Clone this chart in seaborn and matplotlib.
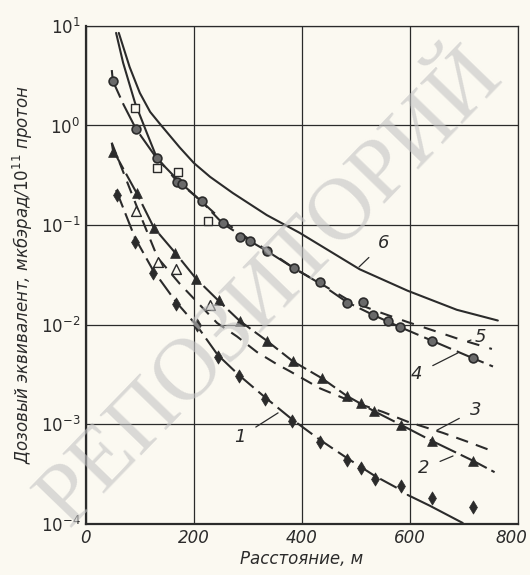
import numpy as np
import pandas as pd
import matplotlib
matplotlib.use("Agg")
import matplotlib.pyplot as plt
import matplotlib.transforms as mtransforms
import seaborn as sns

# данные (расстояние, м / доза на 1e11 протонов)
c6_x = [61, 81, 100, 119, 137, 174, 200, 230, 272, 335, 396, 457, 507, 596, 687, 763]
c6_y = [8.5, 3.87, 2.12, 1.37, 1.04, 0.60, 0.42, 0.305, 0.21, 0.126, 0.0835, 0.0526, 0.036, 0.0219, 0.0141, 0.011]

c5_x = [56, 69, 91, 113, 131, 165, 211, 254, 304, 341, 385, 433, 489, 541, 594, 650, 693, 752]
c5_y = [8.5, 4.26, 1.69, 0.84, 0.48, 0.291, 0.179, 0.110, 0.071, 0.054, 0.037, 0.0262, 0.0173, 0.0135, 0.0107, 0.0085, 0.0071, 0.0057]

c4_x = [48, 50, 70, 93, 131, 174, 215, 254, 304, 335, 385, 433, 483, 531, 581, 641, 717, 754]
c4_y = [3.6, 2.8, 1.61, 0.92, 0.47, 0.27, 0.171, 0.103, 0.069, 0.055, 0.037, 0.026, 0.0169, 0.0126, 0.0095, 0.0069, 0.0046, 0.0038]

c3_x = [48, 93, 133, 174, 211, 243, 280, 317, 354, 378, 433, 489, 550, 596, 661, 706, 752]
c3_y = [0.67, 0.160, 0.047, 0.0257, 0.0158, 0.0104, 0.0076, 0.0053, 0.0040, 0.0034, 0.0023, 0.00172, 0.00133, 0.00106, 0.00082, 0.00067, 0.00054]

c2_x = [48, 50, 94, 126, 165, 204, 248, 285, 335, 383, 437, 483, 533, 583, 641, 717, 757]
c2_y = [0.67, 0.57, 0.21, 0.094, 0.053, 0.029, 0.0169, 0.0109, 0.0069, 0.0043, 0.0029, 0.00193, 0.00136, 0.00099, 0.00068, 0.00043, 0.00033]

c1_x = [56, 91, 124, 167, 206, 244, 283, 331, 381, 433, 483, 535, 583]
c1_y = [0.225, 0.0743, 0.0355, 0.0169, 0.0097, 0.00498, 0.00313, 0.00188, 0.00113, 0.00070, 0.00046, 0.000303, 0.000219]
c1s_x = [596, 637, 698]
c1s_y = [0.000195, 0.000152, 0.000102]

circ_x = [50, 93, 131, 169, 178, 215, 254, 285, 304, 335, 385, 433, 483, 513, 531, 559, 581, 641, 717]
circ_y = [2.8, 0.92, 0.47, 0.27, 0.26, 0.175, 0.105, 0.076, 0.069, 0.055, 0.037, 0.027, 0.0166, 0.017, 0.0126, 0.011, 0.0095, 0.0069, 0.0046]

sq_x = [91, 131, 170, 226]
sq_y = [1.5, 0.375, 0.342, 0.110]

tri_x = [50, 94, 126, 165, 204, 246, 285, 335, 383, 437, 483, 509, 533, 583, 641, 717]
tri_y = [0.54, 0.21, 0.094, 0.053, 0.029, 0.0177, 0.0109, 0.0069, 0.0043, 0.0029, 0.00193, 0.00164, 0.00136, 0.00099, 0.00068, 0.00043]

otri_x = [93, 133, 167, 230]
otri_y = [0.139, 0.043, 0.036, 0.0158]

dia_x = [57, 91, 124, 167, 206, 244, 283, 331, 381, 433, 483, 509, 535, 583, 641, 717]
dia_y = [0.20, 0.068, 0.033, 0.0162, 0.00995, 0.00475, 0.00306, 0.0018, 0.00108, 0.00067, 0.00044, 0.000365, 0.000283, 0.000241, 0.000182, 0.000148]

# подписи кривых: номер, точка на кривой, конец выноски
labels = ["1", "2", "3", "4", "5", "6"]
lab_xy = [(356, 0.0013), (680, 0.00048), (650, 0.00087), (689, 0.0052), (707, 0.0068), (506, 0.038)]
lab_txt = [(285, 0.00074), (625, 0.00036), (722, 0.0014), (612, 0.0032), (730, 0.0076), (552, 0.066)]

sns.set_style("white")
plt.rcParams["font.family"] = ["DejaVu Sans"]
plt.rcParams["mathtext.fontset"] = "dejavusans"

ink = "#2b2b2b"
paper = "#fbf9f1"

fig = plt.figure(figsize=(5.3, 5.75), dpi=100, facecolor=paper)
ax = fig.add_axes([0.162, 0.089, 0.815, 0.866])
ax.set_facecolor(paper)

lw = 1.5
sns.lineplot(x=c6_x, y=c6_y, ax=ax, color=ink, lw=lw, sort=False)
sns.lineplot(x=c5_x[:5], y=c5_y[:5], ax=ax, color=ink, lw=lw, sort=False)
sns.lineplot(x=c5_x[4:], y=c5_y[4:], ax=ax, color=ink, lw=lw, sort=False, linestyle=(0, (6, 5)))
sns.lineplot(x=c4_x, y=c4_y, ax=ax, color=ink, lw=lw, sort=False, linestyle=(0, (14, 3)))
sns.lineplot(x=c3_x, y=c3_y, ax=ax, color=ink, lw=lw, sort=False, linestyle=(0, (6, 4)))
sns.lineplot(x=c2_x, y=c2_y, ax=ax, color=ink, lw=lw, sort=False, linestyle=(0, (14, 2.5)))
sns.lineplot(x=c1_x, y=c1_y, ax=ax, color=ink, lw=lw, sort=False, linestyle=(0, (9, 3)))
sns.lineplot(x=c1s_x, y=c1s_y, ax=ax, color=ink, lw=lw, sort=False)

sns.scatterplot(x=circ_x, y=circ_y, ax=ax, marker="o", s=40, color="#6a6a6a", edgecolor=ink, linewidth=1.2, zorder=5)
sns.scatterplot(x=sq_x, y=sq_y, ax=ax, marker="s", s=38, color=paper, edgecolor=ink, linewidth=1.0, zorder=5)
sns.scatterplot(x=tri_x, y=tri_y, ax=ax, marker="^", s=50, color=ink, edgecolor=ink, linewidth=0.5, zorder=5)
sns.scatterplot(x=otri_x, y=otri_y, ax=ax, marker="^", s=50, color=paper, edgecolor=ink, linewidth=1.0, zorder=5)
sns.scatterplot(x=dia_x, y=dia_y, ax=ax, marker="d", s=45, color=ink, edgecolor=ink, linewidth=0.5, zorder=5)

for lab, xy, xt in zip(labels, lab_xy, lab_txt):
    ax.annotate(lab, xy=xy, xytext=xt, fontsize=13, style="italic", color=ink,
                ha="center", va="center",
                arrowprops=dict(arrowstyle="-", color=ink, lw=0.9, shrinkA=6, shrinkB=0))

ax.set_yscale("log")
ax.set_xlim(0, 800)
ax.set_ylim(1e-4, 1e1)
ax.set_xticks([0, 200, 400, 600, 800])
ax.set_xticklabels(["0", "200", "400", "600", "800"], style="italic")
yt = [1e-4, 1e-3, 1e-2, 1e-1, 1e0, 1e1]
ax.set_yticks(yt)
ax.set_yticklabels([r"$\mathit{10^{%d}}$" % p for p in range(-4, 2)])
ax.minorticks_off()
ax.tick_params(axis="both", length=0, labelsize=12, colors=ink, pad=4)
# сдвинуть «800», чтобы не обрезалось
last = ax.get_xticklabels()[-1]
last.set_transform(last.get_transform() + mtransforms.ScaledTranslation(-6 / 100, 0, fig.dpi_scale_trans))
ax.grid(True, color=ink, lw=0.9)
for side, s in ax.spines.items():
    s.set_color(ink)
    s.set_linewidth(0.9)
ax.spines["left"].set_linewidth(1.6)
ax.spines["bottom"].set_linewidth(1.6)

ax.set_xlabel("Расстояние, м", fontsize=12, style="italic", color=ink, labelpad=2)
ax.set_ylabel(r"Дозовый эквивалент, мкбэрад/$\mathit{10^{11}}$ протон", fontsize=12,
              style="italic", color=ink, labelpad=4)

# водяной знак
fig.text(0.51, 0.50, "РЕПОЗИТОРИЙ", fontsize=63, family="Liberation Serif",
         color="#c4c4c4", alpha=0.6, rotation=46, ha="center", va="center", zorder=10)

fig.savefig("out.png", dpi=100, facecolor=paper)
